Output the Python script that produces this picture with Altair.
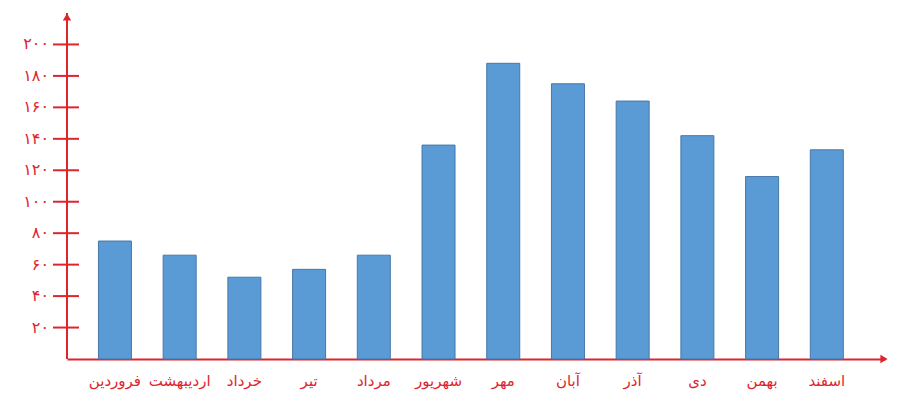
import altair as alt
import pandas as pd

months = ["فروردین", "اردیبهشت", "خرداد", "تیر", "مرداد", "شهریور",
          "مهر", "آبان", "آذر", "دی", "بهمن", "اسفند"]
values = [75, 66, 52, 57, 66, 136, 188, 175, 164, 142, 116, 133]
y_ticks = [20, 40, 60, 80, 100, 120, 140, 160, 180, 200]
y_tick_labels = ["۲۰", "۴۰", "۶۰", "۸۰", "۱۰۰", "۱۲۰", "۱۴۰", "۱۶۰", "۱۸۰", "۲۰۰"]
y_min, y_max = 0, 220

RED = "#e0242c"
FONT = "DejaVu Sans"
W, H = 818, 346

df = pd.DataFrame({"month": months, "value": values})
ticks_df = pd.DataFrame({"tick": y_ticks, "label": y_tick_labels})
yaxis_df = pd.DataFrame({"lo": [y_min], "hi": [y_max]})

yscale = alt.Scale(domain=[y_min, y_max], nice=False, zero=True)

bars = alt.Chart(df).mark_bar(color="#5b9bd5", stroke="#4677a8", strokeWidth=1).encode(
    x=alt.X("month:N", sort=months, title=None,
            scale=alt.Scale(paddingInner=0.49, paddingOuter=0.565, align=0.43),
            axis=alt.Axis(domainColor=RED, domainWidth=2, ticks=False, tickSize=0,
                          labelColor=RED, labelFont=FONT, labelFontSize=15,
                          labelPadding=14, labelAngle=0)),
    y=alt.Y("value:Q", scale=yscale, title=None, axis=None),
)

y_line = alt.Chart(yaxis_df).mark_rule(color=RED, strokeWidth=2).encode(
    y=alt.Y("lo:Q", scale=yscale, axis=None),
    y2="hi:Q",
    x=alt.value(0),
)

tick_marks = alt.Chart(ticks_df).mark_rule(color=RED, strokeWidth=2).encode(
    y=alt.Y("tick:Q", scale=yscale, axis=None),
    x=alt.value(-14),
    x2=alt.value(12),
)

tick_labels = alt.Chart(ticks_df).mark_text(
    color=RED, font=FONT, fontSize=16, align="right", baseline="middle"
).encode(
    y=alt.Y("tick:Q", scale=yscale, axis=None),
    x=alt.value(-18),
    text="label:N",
)

y_arrow = alt.Chart(yaxis_df).mark_point(
    shape="triangle-up", filled=True, color=RED, size=70, yOffset=4, opacity=1
).encode(
    y=alt.Y("hi:Q", scale=yscale, axis=None),
    x=alt.value(0),
)

x_arrow = alt.Chart(yaxis_df).mark_point(
    shape="triangle-right", filled=True, color=RED, size=70, xOffset=-1, opacity=1
).encode(
    y=alt.Y("lo:Q", scale=yscale, axis=None),
    x=alt.value(W),
)

chart = alt.layer(bars, y_line, tick_marks, tick_labels, y_arrow, x_arrow).properties(
    width=W, height=H,
    autosize=alt.AutoSizeParams(type="none"),
    padding={"left": 59, "top": 5, "right": 10, "bottom": 40},
).configure(background="white").configure_view(stroke=None)

chart.save("out.html", embed_options={"renderer": "svg", "actions": False})
